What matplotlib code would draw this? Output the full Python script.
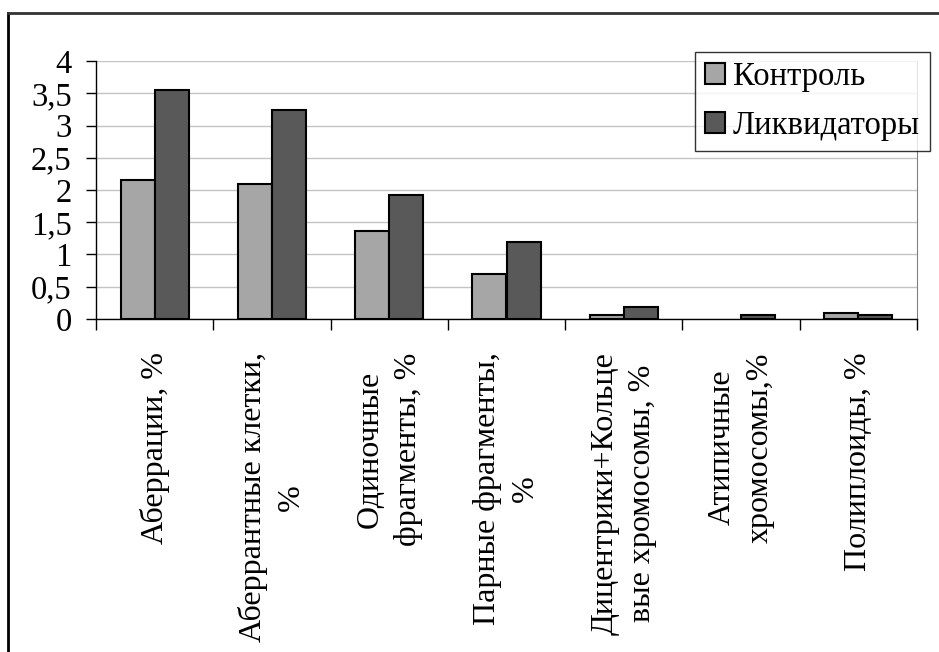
import matplotlib.pyplot as plt
import numpy as np
from matplotlib.lines import Line2D

categories = ['Аберрации, %',
              'Аберрантные клетки,\n%',
              'Одиночные\nфрагменты, %',
              'Парные фрагменты,\n%',
              'Дицентрики+Кольце\nвые хромосомы, %',
              'Атипичные\nхромосомы,%',
              'Полиплоиды, %']
control = [2.15, 2.09, 1.37, 0.69, 0.06, 0.0, 0.10]
liquidators = [3.55, 3.24, 1.93, 1.19, 0.19, 0.06, 0.06]
yticks = [0, 0.5, 1, 1.5, 2, 2.5, 3, 3.5, 4]
ytick_labels = ['0', '0,5', '1', '1,5', '2', '2,5', '3', '3,5', '4']

plt.rcParams['font.family'] = ['Liberation Serif', 'DejaVu Serif']

fig = plt.figure(figsize=(9.39, 6.52), dpi=100)
ax = fig.add_axes([96 / 939, 1 - 319 / 652, (917 - 96) / 939, (319 - 61) / 652])

x = np.arange(len(categories))
w = 0.29
b1 = ax.bar(x - w / 2, control, w, color='#a6a6a6', edgecolor='black',
            linewidth=1.5, label='Контроль', zorder=3)
b2 = ax.bar(x + w / 2, liquidators, w, color='#595959', edgecolor='black',
            linewidth=1.5, label='Ликвидаторы', zorder=3)
# empty bars are not drawn at all
for bars, vals in ((b1, control), (b2, liquidators)):
    for r, v in zip(bars, vals):
        if v == 0:
            r.set_visible(False)

ax.set_xlim(-0.5, len(categories) - 0.5)
ax.set_ylim(0, 4)
ax.set_yticks(yticks)
ax.set_yticklabels(ytick_labels, fontsize=23.5)
ax.tick_params(axis='y', direction='out', length=7.5, width=1, pad=10)

# category boundaries as major ticks, labels on minor ticks
ax.set_xticks(np.arange(-0.5, len(categories), 1.0))
ax.set_xticklabels([])
ax.set_xticks(x, minor=True)
ax.set_xticklabels(categories, minor=True, rotation=90, fontsize=23,
                   va='top', ha='center', multialignment='center',
                   linespacing=1.4)
ax.tick_params(axis='x', which='major', direction='out', length=8, width=1)
ax.tick_params(axis='x', which='minor', length=0, pad=24)

ax.grid(axis='y', color='#c4c4c4', linewidth=1, zorder=0)
ax.spines['top'].set_visible(False)
ax.spines['right'].set_color('#808080')
for s in ['left', 'bottom']:
    ax.spines[s].set_linewidth(1)

leg = ax.legend(loc='upper right', bbox_to_anchor=(930 / 939, 1 - 52 / 652),
                bbox_transform=fig.transFigure, fontsize=23.5, frameon=True,
                fancybox=False, edgecolor='black', handlelength=0.62,
                handleheight=0.62, handletextpad=0.25, borderpad=0.3,
                labelspacing=0.55, borderaxespad=0)
leg.get_frame().set_linewidth(1)
leg.set_zorder(5)

# outer frame (only top and left visible)
fig.add_artist(Line2D([8 / 939, 8 / 939], [0, 1 - 13 / 652], color='black',
                      linewidth=2, transform=fig.transFigure))
fig.add_artist(Line2D([8 / 939, 1], [1 - 13 / 652, 1 - 13 / 652],
                      color='#333333', linewidth=2, transform=fig.transFigure))

fig.savefig('out.png', dpi=100)
